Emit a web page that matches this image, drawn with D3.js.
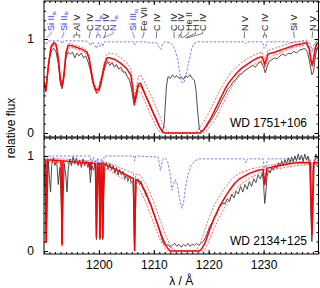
<!DOCTYPE html>
<html>
<head>
<meta charset="utf-8">
<script src="https://cdn.jsdelivr.net/npm/d3@7"></script>
<style>
  body { margin: 0; background: #fff; }
  text { font-family: "Liberation Sans", Arial, sans-serif; }
</style>
</head>
<body>
<svg id="chart" width="320" height="288"></svg>
<script>
// ---- data: [wavelength (A), relative flux] ----
const obsTop = [
  [1190.0,0.55],[1190.3,0.44],[1190.6,0.6],[1191.0,0.8],[1191.4,0.88],[1191.8,0.9],[1192.2,0.86],[1192.6,0.74],
  [1193.0,0.52],[1193.3,0.47],[1193.6,0.58],[1194.0,0.8],[1194.4,0.86],[1194.8,0.84],[1195.2,0.86],[1195.6,0.8],
  [1196.0,0.85],[1196.4,0.82],[1196.8,0.85],[1197.2,0.8],[1197.6,0.82],[1198.0,0.76],[1198.4,0.68],[1198.8,0.56],
  [1199.2,0.48],[1199.6,0.42],[1200.0,0.44],[1200.4,0.52],[1200.8,0.64],[1201.2,0.72],[1201.6,0.76],[1202.0,0.72],
  [1202.4,0.75],[1202.8,0.7],[1203.2,0.73],[1203.6,0.68],[1204.0,0.7],[1204.4,0.65],[1204.8,0.65],[1205.2,0.6],
  [1205.6,0.56],[1206.0,0.45],[1206.4,0.3],[1206.8,0.38],[1207.2,0.5],[1207.6,0.5],[1208.0,0.46],[1208.4,0.41],
  [1208.8,0.36],[1209.2,0.3],[1209.6,0.25],[1210.0,0.2],[1210.4,0.14],[1210.8,0.09],[1211.2,0.05],[1211.6,0.02],
  [1211.9,0.1],[1212.1,0.3],[1212.3,0.5],[1212.6,0.6],[1213.0,0.58],[1213.4,0.62],[1213.8,0.59],[1214.2,0.61],
  [1214.6,0.58],[1215.0,0.6],[1215.4,0.57],[1215.8,0.61],[1216.2,0.59],[1216.6,0.62],[1217.0,0.58],[1217.4,0.56],
  [1217.7,0.45],[1218.0,0.22],[1218.3,0.04],[1218.6,0.02],[1219.0,0.03],[1219.5,0.06],[1220.0,0.1],[1220.5,0.14],
  [1221.0,0.19],[1221.5,0.24],[1222.0,0.3],[1222.5,0.36],[1223.0,0.41],[1223.5,0.47],[1224.0,0.5],[1224.5,0.55],
  [1225.0,0.57],[1225.5,0.62],[1226.0,0.63],[1226.5,0.66],[1227.0,0.68],[1227.5,0.7],[1228.0,0.72],[1228.5,0.7],
  [1229.0,0.74],[1229.5,0.76],[1230.0,0.7],[1230.3,0.64],[1230.6,0.7],[1231.0,0.76],[1231.5,0.78],[1232.0,0.8],
  [1232.5,0.79],[1233.0,0.82],[1233.5,0.84],[1234.0,0.82],[1234.5,0.85],[1235.0,0.84],[1235.5,0.87],[1236.0,0.85],
  [1236.5,0.88],[1237.0,0.89],[1237.5,0.9],[1238.0,0.86],[1238.4,0.75],[1238.8,0.62],[1239.1,0.65],[1239.4,0.8],
  [1239.7,0.9],[1240.0,0.92]
];
const modelTop = [
  [1190.0,0.55],[1190.35,0.45],[1190.8,0.72],[1191.3,0.92],[1191.8,0.96],[1192.2,0.94],[1192.6,0.8],[1193.0,0.56],
  [1193.3,0.5],[1193.6,0.6],[1194.0,0.85],[1194.4,0.93],[1195.0,0.93],[1196.0,0.91],[1197.0,0.89],[1197.8,0.86],
  [1198.2,0.8],[1198.6,0.66],[1199.0,0.53],[1199.5,0.45],[1200.0,0.47],[1200.5,0.58],[1201.0,0.72],[1201.5,0.8],
  [1202.0,0.8],[1203.0,0.78],[1204.0,0.74],[1205.0,0.69],[1205.8,0.62],[1206.2,0.46],[1206.5,0.32],[1206.8,0.42],
  [1207.2,0.52],[1207.6,0.53],[1208.5,0.4],[1209.5,0.27],[1210.0,0.2],[1210.5,0.14],[1211.0,0.07],[1211.5,0.02],
  [1212.0,0.0],[1218.4,0.0],[1219.0,0.03],[1219.5,0.07],[1220.0,0.12],[1220.5,0.17],[1221.0,0.23],[1221.5,0.29],
  [1222.0,0.35],[1222.5,0.41],[1223.0,0.47],[1223.5,0.52],[1224.0,0.56],[1225.0,0.63],[1226.0,0.69],[1227.0,0.73],
  [1228.0,0.77],[1229.0,0.8],[1229.7,0.81],[1230.0,0.77],[1230.2,0.73],[1230.45,0.77],[1230.8,0.84],[1232.0,0.86],
  [1233.0,0.88],[1234.0,0.9],[1235.0,0.92],[1236.0,0.94],[1237.0,0.95],[1237.8,0.96],[1238.3,0.9],[1238.6,0.78],
  [1238.85,0.72],[1239.1,0.78],[1239.4,0.9],[1239.7,0.95],[1240.0,0.96]
];
const upperTop = [
  [1190.0,0.58],[1190.35,0.48],[1190.8,0.75],[1191.3,0.94],[1191.8,0.98],[1192.2,0.96],[1192.6,0.82],[1193.0,0.58],
  [1193.3,0.52],[1193.6,0.62],[1194.0,0.87],[1194.4,0.95],[1195.0,0.95],[1196.0,0.93],[1197.0,0.91],[1197.8,0.88],
  [1198.2,0.82],[1198.6,0.68],[1199.0,0.55],[1199.5,0.47],[1200.0,0.5],[1200.5,0.61],[1201.0,0.76],[1201.5,0.84],
  [1202.0,0.85],[1203.0,0.84],[1204.0,0.8],[1205.0,0.75],[1205.8,0.69],[1206.2,0.52],[1206.5,0.37],[1206.8,0.48],
  [1207.2,0.6],[1207.6,0.62],[1208.5,0.52],[1209.5,0.4],[1210.0,0.33],[1210.5,0.26],[1211.0,0.19],[1211.5,0.12],
  [1212.0,0.06],[1212.5,0.02],[1213.0,0.0],[1217.5,0.0],[1218.0,0.03],[1218.5,0.07],[1219.0,0.11],[1219.5,0.16],
  [1220.0,0.21],[1220.5,0.27],[1221.0,0.33],[1221.5,0.39],[1222.0,0.45],[1222.5,0.5],[1223.0,0.55],[1223.5,0.6],
  [1224.0,0.64],[1225.0,0.7],[1226.0,0.75],[1227.0,0.79],[1228.0,0.82],[1229.0,0.85],[1229.7,0.86],[1230.0,0.82],
  [1230.2,0.78],[1230.45,0.82],[1230.8,0.88],[1232.0,0.9],[1233.0,0.92],[1234.0,0.94],[1235.0,0.96],[1236.0,0.97],
  [1237.0,0.98],[1237.8,0.99],[1238.3,0.93],[1238.6,0.81],[1238.85,0.75],[1239.1,0.81],[1239.4,0.93],[1239.7,0.98],
  [1240.0,0.99]
];
const lowerTop = [
  [1190.0,0.53],[1190.35,0.43],[1190.8,0.7],[1191.3,0.9],[1191.8,0.94],[1192.2,0.92],[1192.6,0.78],[1193.0,0.54],
  [1193.3,0.48],[1193.6,0.58],[1194.0,0.83],[1194.4,0.9],[1195.0,0.91],[1196.0,0.89],[1197.0,0.87],[1197.8,0.84],
  [1198.2,0.78],[1198.6,0.64],[1199.0,0.5],[1199.5,0.43],[1200.0,0.45],[1200.5,0.55],[1201.0,0.68],[1201.5,0.75],
  [1202.0,0.75],[1203.0,0.72],[1204.0,0.67],[1205.0,0.61],[1205.8,0.54],[1206.2,0.4],[1206.5,0.28],[1206.8,0.36],
  [1207.2,0.44],[1207.6,0.44],[1208.5,0.32],[1209.5,0.18],[1210.0,0.12],[1210.5,0.06],[1211.0,0.02],[1211.5,0.0],
  [1219.0,0.0],[1219.5,0.02],[1220.0,0.05],[1220.5,0.09],[1221.0,0.13],[1221.5,0.18],[1222.0,0.24],[1222.5,0.3],
  [1223.0,0.36],[1223.5,0.42],[1224.0,0.47],[1225.0,0.56],[1226.0,0.63],[1227.0,0.68],[1228.0,0.72],[1229.0,0.75],
  [1229.7,0.77],[1230.0,0.73],[1230.2,0.69],[1230.45,0.73],[1230.8,0.79],[1232.0,0.83],[1233.0,0.85],[1234.0,0.88],
  [1235.0,0.9],[1236.0,0.92],[1237.0,0.93],[1237.8,0.94],[1238.3,0.88],[1238.6,0.76],[1238.85,0.7],[1239.1,0.76],
  [1239.4,0.88],[1239.7,0.93],[1240.0,0.94]
];
const ismTop = [
  [1190.0,0.97],[1190.4,0.94],[1190.8,0.98],[1193.0,0.98],[1193.3,0.95],[1193.6,0.98],[1197.5,0.98],[1198.0,0.97],
  [1198.5,0.93],[1198.8,0.97],[1199.2,0.94],[1199.55,0.9],[1199.9,0.96],[1200.2,0.92],[1200.5,0.95],[1200.7,0.92],
  [1201.0,0.97],[1206.3,0.97],[1206.5,0.94],[1206.7,0.97],[1208.5,0.97],[1209.0,0.96],[1210.5,0.96],[1211.0,0.91],
  [1211.3,0.89],[1211.6,0.95],[1212.0,0.97],[1213.0,0.96],[1213.5,0.93],[1214.0,0.86],[1214.4,0.77],[1214.8,0.6],
  [1215.1,0.54],[1215.4,0.53],[1215.7,0.57],[1216.1,0.68],[1216.5,0.79],[1216.9,0.9],[1217.3,0.95],[1218.0,0.97],
  [1226.4,0.97],[1226.7,0.95],[1227.0,0.97],[1229.8,0.97],[1230.1,0.9],[1230.4,0.92],[1230.6,0.97],[1234.5,0.97],
  [1235.0,0.96],[1235.5,0.97],[1238.3,0.97],[1238.6,0.93],[1238.85,0.86],[1239.1,0.93],[1239.5,0.97],[1240.0,0.98]
];

const obsBot = [
  [1190.0,0.92],[1190.2,0.6],[1190.4,0.1],[1190.6,0.55],[1190.8,0.95],[1191.0,0.75],[1191.2,0.62],[1191.4,0.9],
  [1191.7,0.98],[1192.0,0.9],[1192.3,0.96],[1192.6,0.7],[1192.9,0.88],[1193.15,0.5],[1193.3,0.08],[1193.45,0.5],
  [1193.7,0.92],[1194.0,0.78],[1194.2,0.62],[1194.4,0.85],[1194.7,0.97],[1195.0,0.9],[1195.3,0.99],[1195.6,0.92],
  [1195.9,0.98],[1196.2,0.9],[1196.5,0.96],[1196.8,0.88],[1197.1,0.97],[1197.4,0.9],[1197.7,0.95],[1198.0,0.88],
  [1198.2,0.93],[1198.45,0.72],[1198.7,0.9],[1199.0,0.85],[1199.3,0.92],[1199.45,0.5],[1199.55,0.12],[1199.7,0.6],
  [1199.9,0.88],[1200.1,0.45],[1200.2,0.12],[1200.35,0.6],[1200.5,0.7],[1200.6,0.3],[1200.7,0.12],[1200.85,0.55],
  [1201.1,0.88],[1201.4,0.93],[1201.7,0.86],[1202.0,0.92],[1202.3,0.85],[1202.6,0.9],[1202.9,0.82],[1203.2,0.88],
  [1203.5,0.8],[1203.8,0.86],[1204.1,0.8],[1204.4,0.84],[1204.7,0.76],[1205.0,0.8],[1205.3,0.74],[1205.6,0.79],
  [1205.9,0.72],[1206.2,0.74],[1206.35,0.4],[1206.5,0.0],[1206.65,0.4],[1206.8,0.7],[1207.1,0.76],[1207.4,0.7],
  [1207.7,0.73],[1208.0,0.66],[1208.3,0.63],[1208.6,0.58],[1208.9,0.56],[1209.2,0.5],[1209.5,0.48],[1209.8,0.42],
  [1210.1,0.38],[1210.4,0.32],[1210.7,0.28],[1211.0,0.22],[1211.3,0.16],[1211.6,0.1],[1211.9,0.07],[1212.2,0.05],
  [1212.6,0.07],[1213.0,0.04],[1213.4,0.06],[1213.8,0.08],[1214.2,0.05],[1214.6,0.07],[1215.0,0.04],[1215.4,0.07],
  [1215.8,0.05],[1216.2,0.08],[1216.6,0.05],[1217.0,0.07],[1217.4,0.06],[1217.8,0.08],[1218.2,0.06],[1218.6,0.08],
  [1219.0,0.1],[1219.4,0.14],[1219.8,0.2],[1220.2,0.26],[1220.6,0.3],[1221.0,0.35],[1221.4,0.38],[1221.8,0.45],
  [1222.2,0.48],[1222.6,0.5],[1223.0,0.5],[1223.4,0.55],[1223.8,0.52],[1224.2,0.6],[1224.6,0.56],[1225.0,0.63],
  [1225.4,0.6],[1225.8,0.68],[1226.2,0.62],[1226.6,0.7],[1227.0,0.65],[1227.4,0.73],[1227.8,0.68],[1228.2,0.76],
  [1228.6,0.72],[1229.0,0.8],[1229.4,0.76],[1229.8,0.82],[1230.0,0.7],[1230.2,0.5],[1230.4,0.6],[1230.6,0.78],
  [1230.9,0.85],[1231.2,0.82],[1231.5,0.88],[1231.8,0.85],[1232.1,0.9],[1232.4,0.87],[1232.7,0.93],[1233.0,0.89],
  [1233.3,0.95],[1233.6,0.9],[1233.9,0.96],[1234.2,0.92],[1234.5,0.98],[1234.8,0.93],[1235.1,0.99],[1235.4,0.94],
  [1235.7,1.0],[1236.0,0.95],[1236.3,1.02],[1236.6,0.96],[1236.9,1.01],[1237.2,0.94],[1237.5,1.02],[1237.8,0.96],
  [1238.1,1.0],[1238.4,0.9],[1238.6,0.4],[1238.8,0.1],[1239.0,0.4],[1239.2,0.9],[1239.5,1.02],[1239.8,0.97],
  [1240.0,1.0]
];
const modelBot = [
  [1190.0,0.97],[1190.25,0.96],[1190.42,0.09],[1190.6,0.96],[1193.1,0.95],[1193.29,0.06],[1193.45,0.95],[1197.0,0.93],
  [1198.3,0.93],[1198.45,0.85],[1198.6,0.93],[1199.4,0.92],[1199.55,0.14],[1199.75,0.92],[1200.05,0.92],[1200.22,0.14],
  [1200.4,0.92],[1200.55,0.92],[1200.71,0.14],[1200.9,0.92],[1203.0,0.86],[1205.0,0.8],[1206.3,0.76],[1206.5,0.0],
  [1206.7,0.75],[1207.5,0.73],[1208.5,0.62],[1209.5,0.48],[1210.2,0.36],[1211.0,0.23],[1211.5,0.15],[1212.0,0.08],
  [1212.5,0.03],[1213.0,0.0],[1218.3,0.0],[1218.8,0.03],[1219.3,0.08],[1219.8,0.16],[1220.2,0.23],[1220.7,0.3],
  [1221.1,0.36],[1222.0,0.47],[1222.9,0.56],[1223.8,0.64],[1224.7,0.71],[1225.6,0.76],[1227.5,0.82],[1229.0,0.85],
  [1229.9,0.86],[1230.1,0.76],[1230.2,0.7],[1230.35,0.76],[1230.6,0.87],[1232.0,0.89],[1234.0,0.91],[1235.0,0.92],
  [1236.0,0.93],[1238.5,0.93],[1238.65,0.6],[1238.8,0.17],[1238.95,0.6],[1239.1,0.93],[1240.0,0.93]
];
const upperBot = [
  [1190.0,0.99],[1190.25,0.98],[1190.42,0.1],[1190.6,0.98],[1193.1,0.97],[1193.29,0.07],[1193.45,0.97],[1197.0,0.95],
  [1198.3,0.95],[1199.4,0.94],[1199.55,0.15],[1199.75,0.94],[1200.05,0.94],[1200.22,0.15],[1200.4,0.94],[1200.55,0.94],
  [1200.71,0.15],[1200.9,0.94],[1203.0,0.9],[1205.0,0.85],[1206.3,0.82],[1206.5,0.0],[1206.7,0.81],[1207.5,0.8],
  [1208.5,0.71],[1209.5,0.59],[1210.2,0.48],[1211.0,0.35],[1211.5,0.27],[1212.0,0.19],[1212.5,0.12],[1213.0,0.06],
  [1213.5,0.02],[1214.0,0.0],[1217.6,0.0],[1218.0,0.03],[1218.5,0.09],[1219.0,0.17],[1219.5,0.26],[1220.0,0.34],
  [1220.5,0.41],[1221.0,0.48],[1222.0,0.58],[1222.9,0.66],[1223.8,0.73],[1224.7,0.78],[1225.6,0.82],[1227.5,0.86],
  [1229.0,0.88],[1229.9,0.89],[1230.2,0.72],[1230.6,0.9],[1232.0,0.91],[1234.0,0.93],[1236.0,0.94],[1238.5,0.95],
  [1238.8,0.18],[1239.1,0.95],[1240.0,0.95]
];
const lowerBot = [
  [1190.0,0.95],[1190.25,0.94],[1190.42,0.08],[1190.6,0.94],[1193.1,0.93],[1193.29,0.05],[1193.45,0.93],[1197.0,0.91],
  [1198.3,0.9],[1199.4,0.89],[1199.55,0.13],[1199.75,0.89],[1200.05,0.89],[1200.22,0.13],[1200.4,0.89],[1200.55,0.88],
  [1200.71,0.13],[1200.9,0.88],[1203.0,0.81],[1205.0,0.74],[1206.3,0.69],[1206.5,0.0],[1206.7,0.68],[1207.5,0.64],
  [1208.5,0.52],[1209.5,0.37],[1210.2,0.26],[1211.0,0.14],[1211.5,0.08],[1212.0,0.03],[1212.5,0.0],[1219.0,0.0],
  [1219.5,0.04],[1220.0,0.1],[1220.5,0.17],[1221.0,0.24],[1222.0,0.36],[1222.9,0.46],[1223.8,0.55],[1224.7,0.63],
  [1225.6,0.69],[1227.5,0.77],[1229.0,0.81],[1229.9,0.83],[1230.2,0.68],[1230.6,0.84],[1232.0,0.86],[1234.0,0.88],
  [1236.0,0.9],[1238.5,0.91],[1238.8,0.16],[1239.1,0.91],[1240.0,0.91]
];
const ismBot = [
  [1190.0,1.0],[1198.4,1.0],[1198.7,0.9],[1199.0,0.99],[1199.5,0.93],[1199.8,0.98],[1200.2,0.9],[1200.5,0.97],
  [1200.7,0.92],[1201.0,1.0],[1206.3,1.0],[1206.5,0.95],[1206.7,1.0],[1210.8,0.99],[1211.2,0.85],[1211.6,0.96],
  [1212.0,0.98],[1212.5,0.95],[1213.0,0.8],[1213.3,0.64],[1213.6,0.7],[1213.9,0.75],[1214.3,0.7],[1214.7,0.55],
  [1215.1,0.45],[1215.4,0.5],[1215.8,0.68],[1216.2,0.8],[1216.8,0.9],[1217.5,0.95],[1218.2,0.97],[1219.0,0.97],
  [1226.5,0.97],[1226.8,0.93],[1227.1,0.97],[1229.9,0.97],[1230.2,0.85],[1230.5,0.92],[1230.8,0.97],[1234.8,0.97],
  [1235.1,0.95],[1235.4,0.97],[1238.4,0.97],[1238.7,0.9],[1238.9,0.8],[1239.2,0.9],[1239.5,0.97],[1240.0,0.97]
];

// line identifications: label position and the wavelengths it marks
const lineIds = [
  { ion: "Si II",  sub: "is", ism: true,  at: 1191.3, lines: [1190.42] },
  { ion: "Si II",  sub: "is", ism: true,  at: 1193.6, lines: [1193.29] },
  { ion: "Al V",   sub: "",   ism: false, at: 1195.9, lines: [1195.45, 1196.5] },
  { ion: "C IV",   sub: "",   ism: false, at: 1198.4, lines: [1198.2] },
  { ion: "N I",    sub: "is", ism: true,  at: 1199.8, lines: [1199.55, 1200.22] },
  { ion: "C IV",   sub: "",   ism: false, at: 1201.2, lines: [1200.9] },
  { ion: "N I",    sub: "is", ism: true,  at: 1202.6, lines: [1200.71] },
  { ion: "Si III", sub: "is", ism: true,  at: 1206.2, lines: [1206.5] },
  { ion: "Fe VII", sub: "",   ism: false, at: 1208.2, lines: [1207.9] },
  { ion: "C IV",   sub: "",   ism: false, at: 1210.5, lines: [1210.5] },
  { ion: "C IV",   sub: "",   ism: false, at: 1213.7, lines: [1213.7] },
  { ion: "C IV",   sub: "",   ism: false, at: 1215.0, lines: [1214.6, 1215.0] },
  { ion: "He II",  sub: "",   ism: false, at: 1216.3, lines: [1215.17] },
  { ion: "H I",    sub: "",   ism: false, at: 1217.6, lines: [1215.67] },
  { ion: "C IV",   sub: "",   ism: false, at: 1218.9, lines: [1216.0] },
  { ion: "N V",    sub: "",   ism: false, at: 1226.5, lines: [1226.5] },
  { ion: "C IV",   sub: "",   ism: false, at: 1230.2, lines: [1229.95, 1230.5] },
  { ion: "Si V",   sub: "",   ism: false, at: 1235.5, lines: [1235.6] },
  { ion: "N V",    sub: "",   ism: false, at: 1238.9, lines: [1238.82] }
];

const stars = ["WD 1751+106", "WD 2134+125"];
const xTicks = [1200, 1210, 1220, 1230];
const yTicks = [0, 1];

// ---- layout ----
const svg = d3.select("#chart");
const x = d3.scaleLinear().domain([1190, 1240]).range([44, 318.5]);

const panels = [
  { star: stars[0], top: 1, bottom: 137, y: d3.scaleLinear().domain([0, 1]).range([133, 39]),
    obs: obsTop, model: modelTop, upper: upperTop, lower: lowerTop, ism: ismTop, labelY: 127 },
  { star: stars[1], top: 138, bottom: 254, y: d3.scaleLinear().domain([0, 1]).range([251, 156]),
    obs: obsBot, model: modelBot, upper: upperBot, lower: lowerBot, ism: ismBot, labelY: 245 }
];

const BLUE = "#3a3aee";
const FONT = '"Liberation Sans", Arial, sans-serif';

panels.forEach((p, i) => {
  const g = svg.append("g");
  const clipId = "clip" + i;
  svg.append("clipPath").attr("id", clipId)
    .append("rect").attr("x", x.range()[0]).attr("y", p.top)
    .attr("width", x.range()[1] - x.range()[0]).attr("height", p.bottom - p.top);

  const line = d3.line().x(d => x(d[0])).y(d => p.y(d[1]));
  const plot = g.append("g").attr("clip-path", `url(#${clipId})`);

  plot.append("path").datum(p.ism).attr("d", line)
    .attr("fill", "none").attr("stroke", "#6060ff").attr("stroke-width", 0.8)
    .attr("stroke-dasharray", "2.5,1.5");
  plot.append("path").datum(p.obs).attr("d", line)
    .attr("fill", "none").attr("stroke", "#3a3a3a").attr("stroke-width", 0.9);
  [p.upper, p.lower].forEach(s => {
    plot.append("path").datum(s).attr("d", line)
      .attr("fill", "none").attr("stroke", "#ff2020").attr("stroke-width", 0.7)
      .attr("stroke-dasharray", "2,1.5");
  });
  plot.append("path").datum(p.model).attr("d", line)
    .attr("fill", "none").attr("stroke", "#ff0000").attr("stroke-width", 1.5);

  // axes with inward ticks on all four sides
  const minorX = d3.range(1190, 1241, 1);
  const minorY = d3.range(0, 1.45, 0.1).filter(v => p.y(v) >= p.top && p.y(v) <= p.bottom);

  const addX = (axisFn, yPos, size, vals, labels) => {
    const a = axisFn(x).tickValues(vals).tickSizeInner(size).tickSizeOuter(0).tickPadding(6)
      .tickFormat(labels ? d3.format("d") : "");
    const ag = g.append("g").attr("transform", `translate(0,${yPos})`).call(a);
    ag.select(".domain").remove();
    ag.selectAll("text").attr("font-size", 12).attr("fill", "#000").style("font-family", FONT);
  };
  addX(d3.axisBottom, p.bottom, -4, xTicks, i === 1);
  addX(d3.axisBottom, p.bottom, -2, minorX, false);
  addX(d3.axisTop, p.top, -4, xTicks, false);
  addX(d3.axisTop, p.top, -2, minorX, false);

  const addY = (axisFn, xPos, size, vals, labels) => {
    const a = axisFn(p.y).tickValues(vals).tickSizeInner(size).tickSizeOuter(0).tickPadding(10)
      .tickFormat(labels ? d3.format("d") : "");
    const ag = g.append("g").attr("transform", `translate(${xPos},0)`).call(a);
    ag.select(".domain").remove();
    ag.selectAll("text").attr("font-size", 12).attr("fill", "#000").style("font-family", FONT);
  };
  addY(d3.axisLeft, x.range()[0], -4, yTicks, true);
  addY(d3.axisLeft, x.range()[0], -2, minorY, false);
  addY(d3.axisRight, x.range()[1], -4, yTicks, false);
  addY(d3.axisRight, x.range()[1], -2, minorY, false);

  g.append("rect").attr("x", x.range()[0]).attr("y", p.top)
    .attr("width", x.range()[1] - x.range()[0]).attr("height", p.bottom - p.top)
    .attr("fill", "none").attr("stroke", "#000").attr("stroke-width", 1);

  g.append("text").attr("x", 307).attr("y", p.labelY).attr("text-anchor", "end")
    .attr("font-size", 12).text(p.star);
});

// line identification labels (top panel)
const ids = svg.append("g");
lineIds.forEach(d => {
  const col = d.ism ? BLUE : "#222";
  const xl = x(d.at);
  const t = ids.append("text")
    .attr("transform", `translate(${xl + 3.2},31) rotate(-90)`)
    .attr("font-size", 9).attr("fill", col).text(d.ion);
  if (d.sub) t.append("tspan").attr("font-size", 6).attr("dy", 1.5).text(d.sub);

  const xs = d.lines.map(x);
  let path = `M${xl},31.5L${xl},33.5`;
  if (xs.length === 1) {
    path += `L${xs[0]},38`;
  } else {
    const lo = d3.min(xs), hi = d3.max(xs), mid = (lo + hi) / 2;
    path += `L${mid},35M${lo},35L${hi},35`;
    xs.forEach(v => { path += `M${v},35L${v},38`; });
  }
  ids.append("path").attr("d", path).attr("fill", "none")
    .attr("stroke", col).attr("stroke-width", 0.6);
});

// axis titles
svg.append("text").attr("transform", "translate(15,128) rotate(-90)")
  .attr("text-anchor", "middle").attr("font-size", 12).text("relative flux");
svg.append("text").attr("x", (x.range()[0] + x.range()[1]) / 2).attr("y", 285)
  .attr("text-anchor", "middle").attr("font-size", 12).text("λ / Å");
</script>
</body>
</html>
